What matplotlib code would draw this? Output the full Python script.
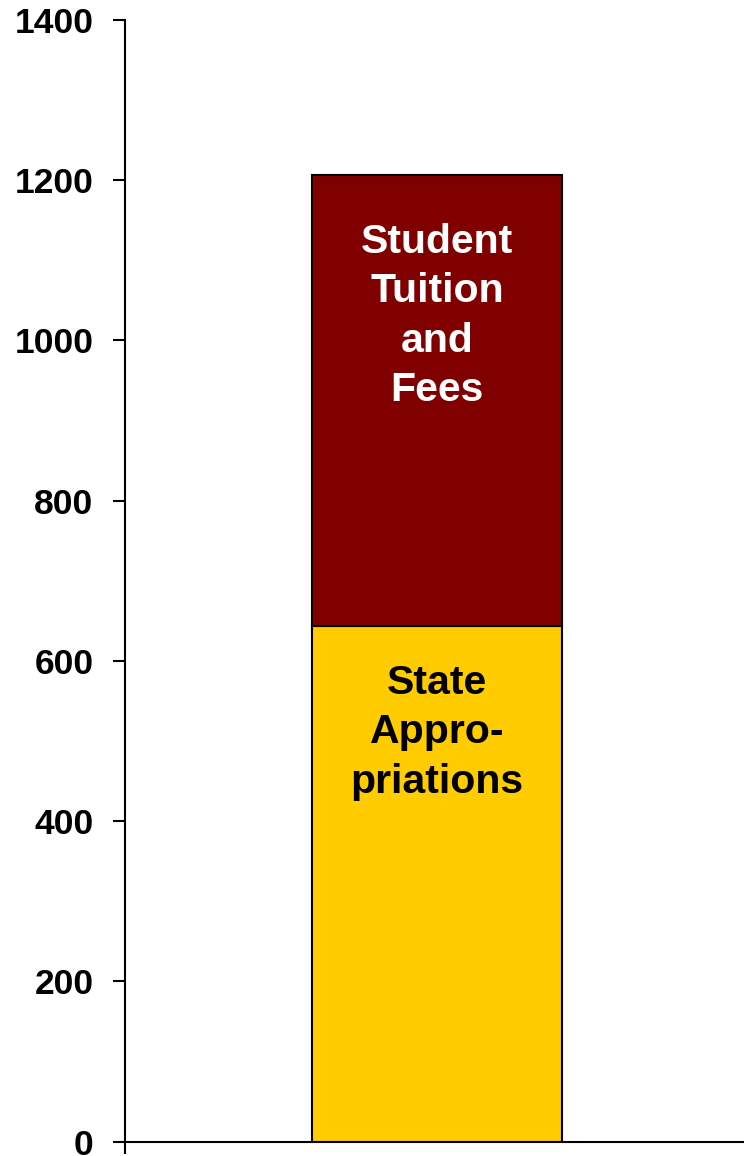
import matplotlib
matplotlib.use("Agg")
from matplotlib import pyplot as plt

categories = [""]
state_appropriations = [644]
tuition_and_fees = [563]
segment_labels = ["State\nAppro-\npriations", "Student\nTuition\nand\nFees"]
y_ticks = [0, 200, 400, 600, 800, 1000, 1200, 1400]

plt.rcParams["font.family"] = ["Liberation Sans", "DejaVu Sans"]

fig = plt.figure(figsize=(7.44, 11.56), dpi=100)
ax = fig.add_axes([125 / 744, 14.3 / 1156, 619 / 744, 1121.7 / 1156])

x = list(range(len(categories)))
width = 0.404
ax.bar(x, state_appropriations, width, color="#FFCC00", edgecolor="black", linewidth=1.5)
ax.bar(x, tuition_and_fees, width, bottom=state_appropriations,
       color="#800000", edgecolor="black", linewidth=1.5)

# labels inside the segments, offset down from each segment top
for i in x:
    ax.annotate(segment_labels[0], (i, state_appropriations[i]),
                xytext=(0, -27.6), textcoords="offset points",
                ha="center", va="top", fontsize=29.5, fontweight="bold",
                color="black", linespacing=1.38)
    ax.annotate(segment_labels[1], (i, state_appropriations[i] + tuition_and_fees[i]),
                xytext=(0, -34.8), textcoords="offset points",
                ha="center", va="top", fontsize=29.5, fontweight="bold",
                color="white", linespacing=1.38)

ax.set_xlim(-0.504, 0.496)
ax.set_ylim(0, 1400)
ax.set_yticks(y_ticks)
ax.set_yticklabels([str(v) for v in y_ticks], fontsize=25.5, fontweight="bold")
ax.set_xticks([-0.504])
ax.set_xticklabels([""])

ax.spines["top"].set_visible(False)
ax.spines["right"].set_visible(False)
for s in ["left", "bottom"]:
    ax.spines[s].set_linewidth(1.5)
ax.tick_params(axis="y", direction="out", length=8.6, width=1.5, pad=14)
ax.tick_params(axis="x", direction="out", length=8.6, width=1.5)

fig.savefig("out.png", dpi=100)
